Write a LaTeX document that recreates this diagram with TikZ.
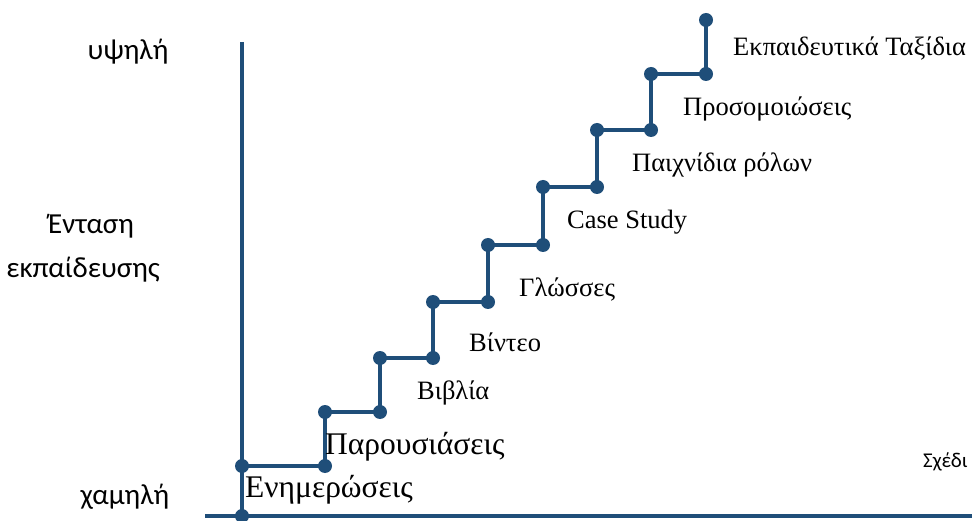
\documentclass[tikz,border=0pt]{standalone}
\usepackage{fontspec}
\setmainfont{Liberation Serif}
\newfontfamily\carfont{Carlito}
\definecolor{stair}{HTML}{1F4E79}
\begin{document}
\begin{tikzpicture}[x=1pt,y=-1pt,
  ln/.style={draw=stair,line width=4.5pt},
  dot/.style={circle,fill=stair,inner sep=0pt,minimum size=14pt},
  lbl/.style={anchor=west,inner sep=0pt,font=\fontsize{26.5}{30}\selectfont},
  big/.style={anchor=west,inner sep=0pt,font=\fontsize{31.5}{36}\selectfont},
  axl/.style={inner sep=0pt,font=\carfont\fontsize{29}{34}\selectfont,align=center}]
\useasboundingbox (0,0) rectangle (972,521);
\clip (0,0) rectangle (972,521);
% axes
\coordinate (atop) at (242,42);
\coordinate (xl) at (205,516);
\coordinate (xr) at (980,516);
\node[dot] (o) at (242,516) {};
\draw[ln] (atop) -- (o.center);
\draw[ln] (xl) -- (xr);
% stairs
\node[dot] (p0) at (242,466) {};
\node[dot] (p1) at (325,466) {};
\node[dot] (p2) at (325,412) {};
\node[dot] (p3) at (380,412) {};
\node[dot] (p4) at (380,358) {};
\node[dot] (p5) at (433,358) {};
\node[dot] (p6) at (433,302) {};
\node[dot] (p7) at (488,302) {};
\node[dot] (p8) at (488,245) {};
\node[dot] (p9) at (543,245) {};
\node[dot] (p10) at (543,187) {};
\node[dot] (p11) at (597,187) {};
\node[dot] (p12) at (597,130) {};
\node[dot] (p13) at (651,130) {};
\node[dot] (p14) at (651,74) {};
\node[dot] (p15) at (706,74) {};
\node[dot] (p16) at (706,20) {};
\draw[ln] (p0.center) -- (p1.center) -- (p2.center) -- (p3.center) -- (p4.center)
  -- (p5.center) -- (p6.center) -- (p7.center) -- (p8.center) -- (p9.center)
  -- (p10.center) -- (p11.center) -- (p12.center) -- (p13.center) -- (p14.center)
  -- (p15.center) -- (p16.center);
% labels
\node[big] (l1) at (245,490) {Ενημερώσεις};
\node[big] (l2) at (325,447) {Παρουσιάσεις};
\node[lbl] (l3) at (417,393) {Βιβλία};
\node[lbl] (l4) at (469,342) {Βίντεο};
\node[lbl] (l5) at (519,290) {Γλώσσες};
\node[lbl] (l6) at (567,222) {Case Study};
\node[lbl] (l7) at (632,165) {Παιχνίδια ρόλων};
\node[lbl] (l8) at (683,109) {Προσομοιώσεις};
\node[lbl] (l9) at (733,49) {Εκπαιδευτικά Ταξίδια};
% axis labels
\node[axl] (hi) at (128,52) {υψηλή};
\node[axl] (mid1) at (91,226) {Ένταση};
\node[axl] (mid2) at (83,270) {εκπαίδευσης};
\node[axl] (lo) at (125,497) {χαμηλή};
\node[anchor=west,inner sep=0pt,font=\carfont\fontsize{21}{24}\selectfont] (cap) at (923,462) {Σχέδι};
\end{tikzpicture}
\end{document}
